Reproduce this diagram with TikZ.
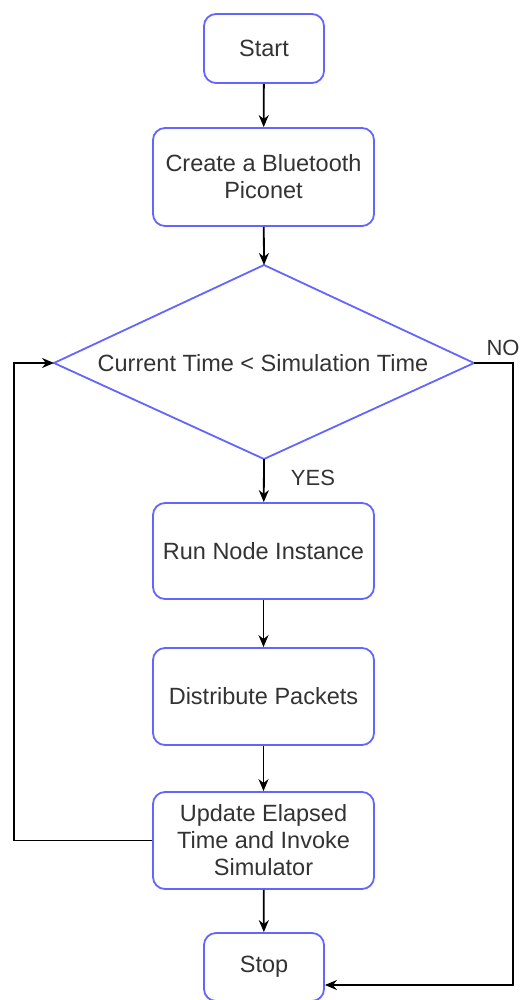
\documentclass[tikz,border=0pt]{standalone}
\usepackage{fontspec}
\setmainfont{Liberation Sans}
\usetikzlibrary{shapes.geometric,arrows.meta}
\definecolor{bblue}{RGB}{100,100,255}
\definecolor{tgray}{RGB}{51,51,51}
\begin{document}
\begin{tikzpicture}[x=1pt,y=-1pt,
  box/.style={draw=bblue,line width=1.8pt,rounded corners=12pt,fill=white,
    text=tgray,align=center,inner sep=0pt,font=\fontsize{23.5}{27}\selectfont},
  lbl/.style={text=tgray,inner sep=0pt,font=\fontsize{22}{24}\selectfont},
  arr/.style={draw=black,line width=1.8pt,-{Stealth[length=12pt,width=10pt]}}]
\useasboundingbox (0,0) rectangle (521,1000);
\node[box,minimum width=120pt,minimum height=69pt] (start) at (264,48.5) {Start};
\node[box,minimum width=221pt,minimum height=98pt] (create) at (263.5,177) {Create a Bluetooth\\Piconet};
\coordinate (dt) at (264,265);
\coordinate (dl) at (54,363);
\coordinate (dr) at (474,363);
\coordinate (db) at (264,459);
\draw[bblue,line width=1.8pt,line join=miter] (dt) -- (dr) -- (db) -- (dl) -- cycle;
\node[text=tgray,inner sep=0pt,font=\fontsize{23.5}{27}\selectfont] (dec) at (263,363) {Current Time < Simulation Time};
\node[box,minimum width=221pt,minimum height=96pt] (run) at (263.5,551) {Run Node Instance};
\node[box,minimum width=221pt,minimum height=97pt] (dist) at (263.5,696.5) {Distribute Packets};
\node[box,minimum width=221pt,minimum height=97pt] (upd) at (263.5,840.5) {Update Elapsed\\Time and Invoke\\Simulator};
\node[box,minimum width=120pt,minimum height=68pt] (stop) at (264,967) {Stop};
\draw[arr] (start) -- (create);
\draw[arr] (create) -- (dt);
\draw[arr] (db) -- (run);
\draw[arr] (run) -- (dist);
\draw[arr] (dist) -- (upd);
\draw[arr] (upd) -- (stop);
\coordinate (lc) at (14,363);
\draw[arr] (upd.west) -| (lc) -- (dl);
\coordinate (rc) at (513,985);
\draw[arr] (dr) -| (rc) -- (stop.east |- rc);
\node[lbl] (no) at (503,348) {NO};
\node[lbl] (yes) at (313,478) {YES};
\end{tikzpicture}
\end{document}
